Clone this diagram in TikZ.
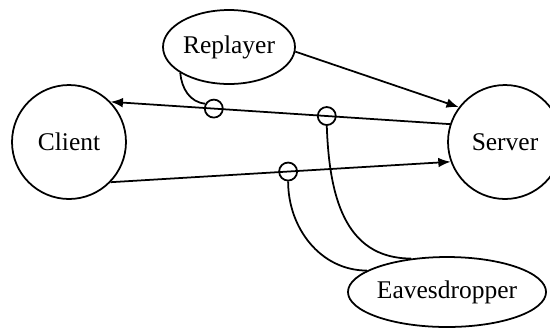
\documentclass[tikz,border=0pt]{standalone}
\usepackage{fontspec}
\setmainfont{Liberation Serif}
\usetikzlibrary{shapes.geometric,arrows.meta}

\begin{document}
\begin{tikzpicture}[x=0.02cm,y=-0.02cm]
    \tikzset{
        party/.style = {circle, draw=black, line width=1pt, minimum size=2.28cm, inner sep=0pt, font=\fontsize{14.5}{16}\selectfont},
        attacker/.style = {ellipse, draw=black, line width=1pt, inner sep=0pt, font=\fontsize{14.5}{16}\selectfont},
        tap/.style = {circle, draw=black, line width=1pt, minimum size=0.36cm, inner sep=0pt},
        line/.style = {draw=black, line width=1pt, -{Latex[length=7pt,width=5.5pt]}},
        wire/.style = {draw=black, line width=1pt},
    }
    \useasboundingbox (0,0) rectangle (550,329);

    \node[party](client) at (69,142){Client};
    \node[party](server) at (505,142){Server};
    \node[attacker, minimum width=2.64cm, minimum height=1.48cm](replayer) at (229,47){Replayer};
    \node[attacker, minimum width=3.82cm, minimum height=1.4cm](eaves) at (447,292){Eavesdropper};

    % messages between client and server
    \path [line] (server.162) -- node[tap, pos=0.363](tapB){} node[tap, pos=0.696](tapA){} (client.44);
    \path [line] (client.316) -- node[tap, pos=0.522](tapC){} (server.200);
    \path [line] (replayer.-4) -- (server.143);

    % wiretaps
    \path [wire] (replayer.208) to[out=-85, in=175] (tapA.150);
    \path [wire] (tapB.south) to[out=-88, in=180, looseness=1.1] (eaves.137);
    \path [wire] (tapC.south) to[out=-90, in=180] (eaves.165);

\end{tikzpicture}
\end{document}
